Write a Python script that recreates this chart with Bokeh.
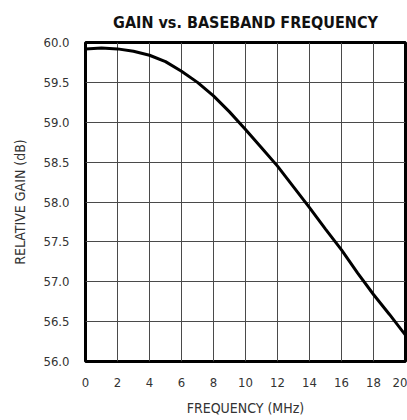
from bokeh.plotting import figure
from bokeh.models import Range1d, FixedTicker
from bokeh.embed import file_html
from bokeh.resources import INLINE

freq_mhz = [0, 1, 2, 3, 4, 5, 6, 7, 8, 9, 10, 11, 12, 13, 14, 15, 16, 17, 18, 19, 20]
gain_db = [59.92, 59.93, 59.92, 59.89, 59.84, 59.76, 59.64, 59.50, 59.33, 59.13,
           58.91, 58.68, 58.45, 58.19, 57.93, 57.66, 57.40, 57.11, 56.84, 56.59, 56.33]
x_ticks = [0, 2, 4, 6, 8, 10, 12, 14, 16, 18, 20]
y_ticks = [56.0, 56.5, 57.0, 57.5, 58.0, 58.5, 59.0, 59.5, 60.0]

FONT = "DejaVu Sans Condensed"

p = figure(width=407, height=418, output_backend="svg", toolbar_location=None,
           x_range=Range1d(0, 20), y_range=Range1d(56, 60),
           min_border_left=85, min_border_right=2, min_border_top=42, min_border_bottom=55,
           title="GAIN vs. BASEBAND FREQUENCY")

p.title.align = "center"
p.title.text_font = FONT
p.title.text_font_size = "16px"
p.title.text_font_style = "bold"
p.title.text_color = "#111111"
p.title.standoff = 21

p.outline_line_color = "black"
p.outline_line_width = 3
p.outline_line_alpha = 1

for ax in (p.xaxis, p.yaxis):
    ax.axis_line_color = None
    ax.major_tick_line_color = None
    ax.minor_tick_line_color = None
    ax.major_label_text_font = FONT
    ax.major_label_text_font_size = "13px"
    ax.major_label_text_color = "#333333"
    ax.axis_label_text_font = FONT
    ax.axis_label_text_font_size = "14px"
    ax.axis_label_text_font_style = "normal"
    ax.axis_label_text_color = "#333333"

p.xaxis.ticker = FixedTicker(ticks=x_ticks)
p.yaxis.ticker = FixedTicker(ticks=y_ticks)
p.yaxis.major_label_overrides = {v: f"{v:.1f}" for v in y_ticks}
p.xaxis.axis_label = "FREQUENCY (MHz)"
p.yaxis.axis_label = "RELATIVE GAIN (dB)"
p.xaxis.major_label_standoff = 10
p.yaxis.major_label_standoff = 10
p.yaxis.axis_label_standoff = 12
p.xaxis.axis_label_standoff = 10

p.xgrid.ticker = FixedTicker(ticks=x_ticks)
p.ygrid.ticker = FixedTicker(ticks=y_ticks)
for g in (p.xgrid, p.ygrid):
    g.grid_line_color = "#4a4a4a"
    g.grid_line_width = 1

p.line(freq_mhz, gain_db, line_color="black", line_width=3)

open("out.html", "w").write(file_html(p, INLINE))
